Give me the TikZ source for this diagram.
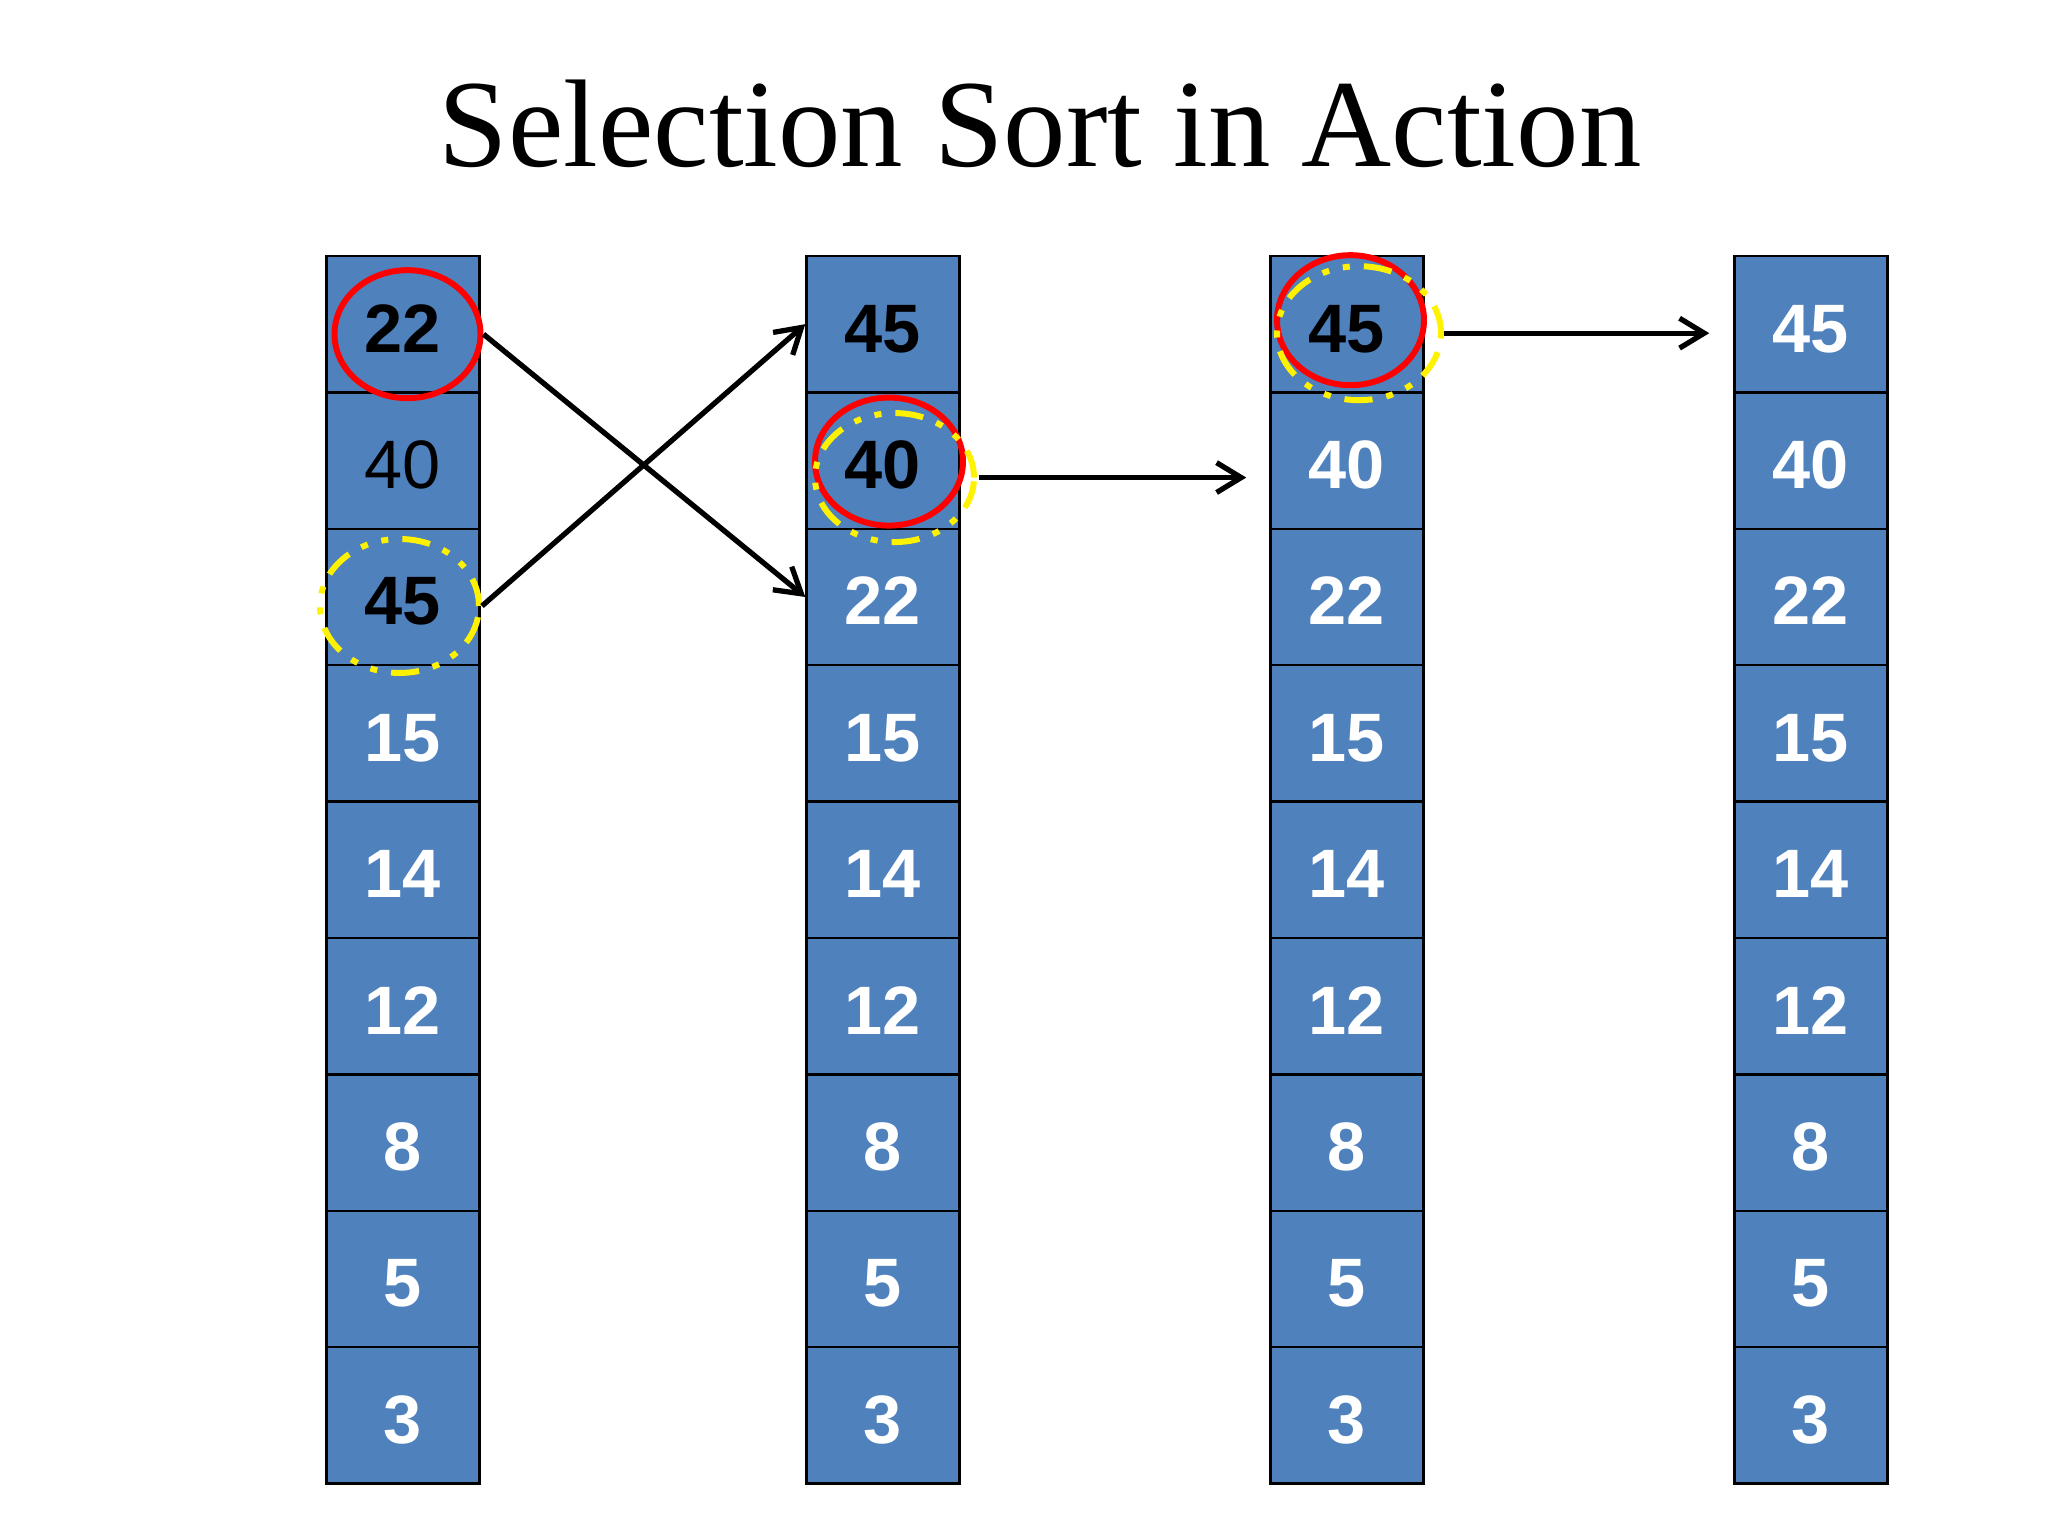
\documentclass[tikz,border=0pt]{standalone}
\usepackage{fontspec}
\setmainfont{Liberation Serif}
\newfontfamily\cellfont{Liberation Sans}
\usetikzlibrary{shapes.geometric,arrows.meta}
\definecolor{cellblue}{RGB}{79,129,189}

\begin{document}
\begin{tikzpicture}[
    cell/.style={draw=black, line width=0.7pt, fill=cellblue,
      minimum width=1.53cm, minimum height=1.364cm, inner sep=0pt,
      text height=0.56cm, text depth=0pt,
      font=\cellfont\fontsize{19.5}{22}\selectfont\bfseries},
    cellwhite/.style={text=white},
    cellblack/.style={text=black},
    cellplain/.style={text=black, font=\cellfont\fontsize{19.5}{22}\selectfont},
    ring/.style={ellipse, draw=red, line width=1.7pt, inner sep=0pt},
    maxring/.style={ellipse, draw=yellow, line width=1.7pt, inner sep=0pt,
      dash pattern=on 8pt off 4pt on 2pt off 4pt on 2pt off 4pt},
    arrow/.style={-{Straight Barb[length=7pt,width=8.5pt]}, line width=1.5pt}
  ]
    \path[use as bounding box, fill=white] (0,0) rectangle (20.48,15.36);

    \node[font=\fontsize{35.5}{40}\selectfont, anchor=base] (title)
      at (10.40,13.69) {Selection Sort in Action};

    % the four passes
    \foreach \v/\s [count=\r] in {22/cellblack, 40/cellplain, 45/cellblack,
      15/cellwhite, 14/cellwhite, 12/cellwhite, 8/cellwhite, 5/cellwhite, 3/cellwhite}
      \node[cell, \s] (a\r) at (4.03,{13.482-1.364*\r}) {\v};
    \foreach \v/\s [count=\r] in {45/cellblack, 40/cellblack, 22/cellwhite,
      15/cellwhite, 14/cellwhite, 12/cellwhite, 8/cellwhite, 5/cellwhite, 3/cellwhite}
      \node[cell, \s] (b\r) at (8.83,{13.482-1.364*\r}) {\v};
    \foreach \v/\s [count=\r] in {45/cellblack, 40/cellwhite, 22/cellwhite,
      15/cellwhite, 14/cellwhite, 12/cellwhite, 8/cellwhite, 5/cellwhite, 3/cellwhite}
      \node[cell, \s] (c\r) at (13.47,{13.482-1.364*\r}) {\v};
    \foreach \v [count=\r] in {45, 40, 22, 15, 14, 12, 8, 5, 3}
      \node[cell, cellwhite] (d\r) at (18.11,{13.482-1.364*\r}) {\v};

    % current place (red) and largest found (yellow)
    \node[ring, minimum width=1.46cm, minimum height=1.28cm] (cur1)
      at ([shift={(0.045,-0.10)}]a1) {};
    \node[maxring, minimum width=1.59cm, minimum height=1.34cm] (big1)
      at ([shift={(-0.035,-0.09)}]a3) {};
    \node[ring, minimum width=1.48cm, minimum height=1.28cm] (cur2)
      at ([shift={(0.06,-0.01)}]b2) {};
    \node[maxring, minimum width=1.59cm, minimum height=1.29cm] (big2)
      at ([shift={(0.115,-0.17)}]b2) {};
    \node[ring, minimum width=1.47cm, minimum height=1.30cm] (cur3)
      at ([shift={(0.035,0.04)}]c1) {};
    \node[maxring, minimum width=1.64cm, minimum height=1.34cm] (big3)
      at ([shift={(0.12,-0.09)}]c1) {};

    \draw[arrow] (cur1.east) -- (b3.west);
    \draw[arrow] (big1.east) -- (b1.west);
    \draw[arrow] ([xshift=0.2mm]big2.east) -- ([xshift=-2.3mm]big2.east -| c2.west);
    \draw[arrow] (big3.east) -- ([xshift=-2.4mm]big3.east -| d1.west);
\end{tikzpicture}
\end{document}
